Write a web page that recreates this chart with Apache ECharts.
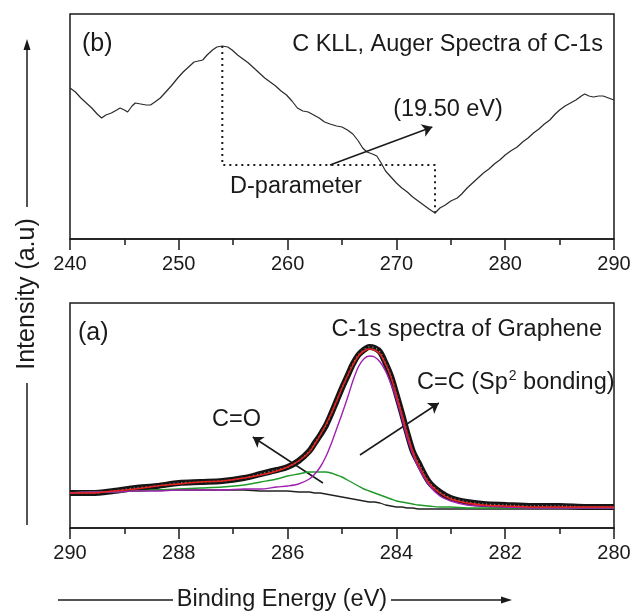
<!DOCTYPE html>
<html><head><meta charset="utf-8">
<script src="https://cdn.jsdelivr.net/npm/echarts@6/dist/echarts.min.js"></script>
<style>html,body{margin:0;padding:0;background:#fff}#c{width:632px;height:613px}</style>
</head><body><div id="c"></div>
<script>
// ---- (b) C KLL Auger spectrum ----
const augerEnergy = [240.0,240.5,241.0,241.5,242.0,242.5,242.9,243.3,243.8,244.3,
  244.6,245.0,245.3,245.7,246.0,246.5,247.0,247.4,247.8,248.3,
  248.8,249.3,249.9,250.4,250.9,251.4,251.8,252.2,252.6,253.1,
  253.5,254.0,254.5,254.9,255.4,255.9,256.4,256.9,257.4,257.9,
  258.4,258.9,259.4,259.9,260.4,260.9,261.4,261.9,262.4,262.9,
  263.4,263.9,264.5,265.0,265.5,266.0,266.5,266.9,267.3,267.8,
  268.2,268.6,269.0,269.5,270.0,270.5,271.0,271.5,272.0,272.5,
  273.0,273.55,274.0,274.5,275.0,275.6,276.0,276.5,277.0,277.5,
  278.0,278.5,279.0,279.5,280.0,280.5,281.1,281.6,282.1,282.6,
  283.1,283.6,284.1,284.6,285.0,285.5,286.0,286.5,287.0,287.3,
  287.7,288.1,288.6,289.0,289.5,290.0];
const augerSignal = [151,147,141,136,131,125,121,124,126,129,
  131,129,127,133,136,135,134,134,137,141,
  147,153,161,167,172,177,178,179,184,189,
  192,193,192,189,184,180,176,171,166,161,
  157,153,148,144,138,131,128,127,124,121,
  117,115,113,112,109,105,98,91,87,85,
  83,76,68,62,56,51,47,42,38,34,
  30,26,31,34,38,41,45,51,56,61,
  66,70,75,79,84,88,92,97,101,106,
  110,115,119,125,129,133,136,139,143,145,
  143,142,143,143,141,139];
const dParamX = [254.0, 254.0, 273.55, 273.55];
const dParamY = [193, 74, 74, 22];
const augerArrowFrom = [263.9, 74];
const augerArrowTo = [273.3, 112];
const augerTicks = [240, 250, 260, 270, 280, 290];

// ---- (a) C-1s XPS spectrum ----
const bindingEnergy = [290.0,289.6,289.2,288.8,288.4,288.0,287.6,287.2,286.8,286.5,
  286.2,286.0,285.8,285.6,285.5,285.4,285.3,285.2,285.1,285.0,
  284.9,284.8,284.7,284.6,284.5,284.4,284.3,284.2,284.1,284.0,
  283.9,283.8,283.7,283.6,283.4,283.2,283.0,282.7,282.4,282.0,
  281.5,281.0,280.5,280.0];
const measured = [35,35,37,40,42,45,46,47,50,54,
  58,61,67,77,85,93,102,114,127,140,
  152,164,173,178,181,180,176,165,152,134,
  115,95,77,66,46,36,30,26,24,23,
  22,22,21,21];
const envelopeFit = [35,35,37,39,42,44,46,47,50,53,
  57,61,67,76,84,93,103,114,127,140,
  152,163,172,177,179,178,174,164,151,133,
  114,94,77,64,45,35,29,25,23,22,
  21,21,21,21];
const sp2Peak = [35,36,36,37,37,38,38,38,39,39,
  41,42,44,49,54,61,71,84,99,114,
  130,147,161,169,172,171,166,157,144,129,
  110,90,74,61,43,32,27,23,22,21,
  20,20,20,20];
const coPeak = [35,36,36,37,38,39,40,41,43,46,
  49,52,54,56,56,56,56,55,53,51,
  48,45,42,39,37,35,33,31,29,27,
  26,25,24,23,22,21,21,20,20,20,
  20,20,20,20];
const background = [35,36,37,37,38,38,38,38,38,37,
  37,37,36,36,35,35,34,33,32,31,
  30,29,28,27,26,26,25,23,22,21,
  21,20,20,19,19,19,19,19,19,19,
  19,19,19,19];
const ccArrowFrom = [284.67, 73];
const ccArrowTo = [283.22, 125];
const coArrowFrom = [285.35, 45];
const coArrowTo = [286.64, 91];
const xpsTicks = [290, 288, 286, 284, 282, 280];

const zip = (xs, ys) => xs.map((x, i) => [x, ys[i]]);
const FONT = '"Liberation Sans", Arial, Helvetica, sans-serif';
const INK = '#1a1a1a';

function txt(x, y, text, size, align, extra) {
  return Object.assign({type: 'text', x: x, y: y, silent: true,
    style: {text: text, fontSize: size, fontFamily: FONT, fill: INK, align: align || 'left', verticalAlign: 'middle'}}, extra || {});
}
function seg(x1, y1, x2, y2) {
  return {type: 'line', silent: true, shape: {x1: x1, y1: y1, x2: x2, y2: y2}, style: {stroke: INK, lineWidth: 1.5}};
}
function tri(pts) {
  return {type: 'polygon', silent: true, shape: {points: pts}, style: {fill: INK}};
}

function xAxisCfg(idx, min, max, interval, inverse) {
  return {
    type: 'value', gridIndex: idx, min: min, max: max, interval: interval, inverse: inverse,
    axisLine: {show: true, onZero: false, lineStyle: {color: INK, width: 1.5}},
    axisTick: {show: true, inside: false, length: 11, lineStyle: {color: INK, width: 1.5}},
    minorTick: {show: true, splitNumber: 2, length: 6, lineStyle: {color: INK, width: 1.5}},
    splitLine: {show: false},
    axisLabel: {show: true, margin: 15, fontSize: 20, fontFamily: FONT, color: INK, showMinLabel: true, showMaxLabel: true}
  };
}
function arrowMark(from, to) {
  return {
    silent: true, animation: false, precision: 4,
    symbol: ['none', 'arrow'], symbolSize: 10,
    lineStyle: {color: INK, width: 1.5, type: 'solid', opacity: 1},
    itemStyle: {color: INK},
    label: {show: false},
    emphasis: {disabled: true},
    data: [[{coord: from, symbol: 'none'}, {coord: to, symbol: 'arrow', symbolSize: 10}]]
  };
}

const chart = echarts.init(document.getElementById('c'), null, {renderer: 'canvas'});
chart.setOption({
  animation: false,
  backgroundColor: '#ffffff',
  grid: [
    {left: 70, right: 18, top: 14, height: 225, show: true, borderColor: INK, borderWidth: 1.5, outerBoundsMode: 'none', containLabel: false},
    {left: 70, right: 18, top: 303, height: 225, show: true, borderColor: INK, borderWidth: 1.5, outerBoundsMode: 'none', containLabel: false}
  ],
  xAxis: [
    xAxisCfg(0, augerTicks[0], augerTicks[augerTicks.length - 1], 10, false),
    xAxisCfg(1, xpsTicks[xpsTicks.length - 1], xpsTicks[0], 2, true)
  ],
  yAxis: [
    {type: 'value', gridIndex: 0, min: 0, max: 225, show: false},
    {type: 'value', gridIndex: 1, min: 0, max: 225, show: false}
  ],
  series: [
    {type: 'line', xAxisIndex: 0, yAxisIndex: 0, data: zip(augerEnergy, augerSignal), showSymbol: false,
     lineStyle: {color: '#2a2a2a', width: 1.2}, silent: true, z: 3},
    {type: 'line', xAxisIndex: 0, yAxisIndex: 0, data: zip(dParamX, dParamY), showSymbol: false,
     lineStyle: {color: INK, width: 2, type: [2, 4]}, silent: true, z: 2},
    {type: 'line', xAxisIndex: 0, yAxisIndex: 0, data: [], showSymbol: false, silent: true, z: 6,
     itemStyle: {color: INK}, lineStyle: {color: INK},
     markLine: arrowMark(augerArrowFrom, augerArrowTo)},

    {type: 'line', xAxisIndex: 1, yAxisIndex: 1, data: zip(bindingEnergy, background), showSymbol: false,
     lineStyle: {color: '#222222', width: 1.3}, silent: true, z: 2},
    {type: 'line', xAxisIndex: 1, yAxisIndex: 1, data: zip(bindingEnergy, measured), showSymbol: false, smooth: 0.3,
     lineStyle: {color: '#151515', width: 6}, silent: true, z: 3},
    {type: 'line', xAxisIndex: 1, yAxisIndex: 1, data: zip(bindingEnergy, measured), showSymbol: false, smooth: 0.3,
     lineStyle: {color: '#9a9a9a', width: 1.5, type: [1, 3]}, silent: true, z: 4},
    {type: 'line', xAxisIndex: 1, yAxisIndex: 1, data: zip(bindingEnergy, coPeak), showSymbol: false, smooth: 0.3,
     lineStyle: {color: '#1f9a2a', width: 1.4}, silent: true, z: 5},
    {type: 'line', xAxisIndex: 1, yAxisIndex: 1, data: zip(bindingEnergy, sp2Peak), showSymbol: false, smooth: 0.3,
     lineStyle: {color: '#a020b0', width: 1.4}, silent: true, z: 5},
    {type: 'line', xAxisIndex: 1, yAxisIndex: 1, data: zip(bindingEnergy, envelopeFit), showSymbol: false, smooth: 0.3,
     lineStyle: {color: '#e8231f', width: 1.5}, silent: true, z: 6},
    {type: 'line', xAxisIndex: 1, yAxisIndex: 1, data: [], showSymbol: false, silent: true, z: 7,
     itemStyle: {color: INK}, lineStyle: {color: INK},
     markLine: arrowMark(ccArrowFrom, ccArrowTo)},
    {type: 'line', xAxisIndex: 1, yAxisIndex: 1, data: [], showSymbol: false, silent: true, z: 7,
     itemStyle: {color: INK}, lineStyle: {color: INK},
     markLine: arrowMark(coArrowFrom, coArrowTo)}
  ],
  graphic: [
    txt(82, 44, '(b)', 25),
    txt(603, 45, 'C KLL, Auger Spectra of C-1s', 23.5, 'right'),
    txt(448, 110, '(19.50 eV)', 23.5, 'center'),
    txt(296, 187, 'D-parameter', 23.5, 'center'),
    txt(78, 333, '(a)', 25),
    txt(602, 330, 'C-1s spectra of Graphene', 23.5, 'right'),
    txt(212, 420, 'C=O', 23.5),
    {type: 'text', x: 417, y: 383, silent: true, style: {
      text: '{a|C=C (Sp}{s|2}{a| bonding)}', verticalAlign: 'middle', align: 'left',
      rich: {a: {fontSize: 23.5, fontFamily: FONT, fill: INK, lineHeight: 28},
             s: {fontSize: 14, fontFamily: FONT, fill: INK, lineHeight: 28, verticalAlign: 'top', padding: [0, 0, 6, 1]}}}},
    // y axis title with arrows
    seg(27, 525, 27, 383),
    seg(27, 207, 27, 48),
    tri([[27, 39], [23.5, 50], [30.5, 50]]),
    txt(27, 294, 'Intensity (a.u)', 25, 'center', {rotation: Math.PI / 2}),
    // x axis title with arrows
    seg(58, 600, 173, 600),
    txt(282, 600, 'Binding Energy (eV)', 23.5, 'center'),
    seg(391, 600, 503, 600),
    tri([[512, 600], [501, 596.5], [501, 603.5]])
  ]
});
</script></body></html>
